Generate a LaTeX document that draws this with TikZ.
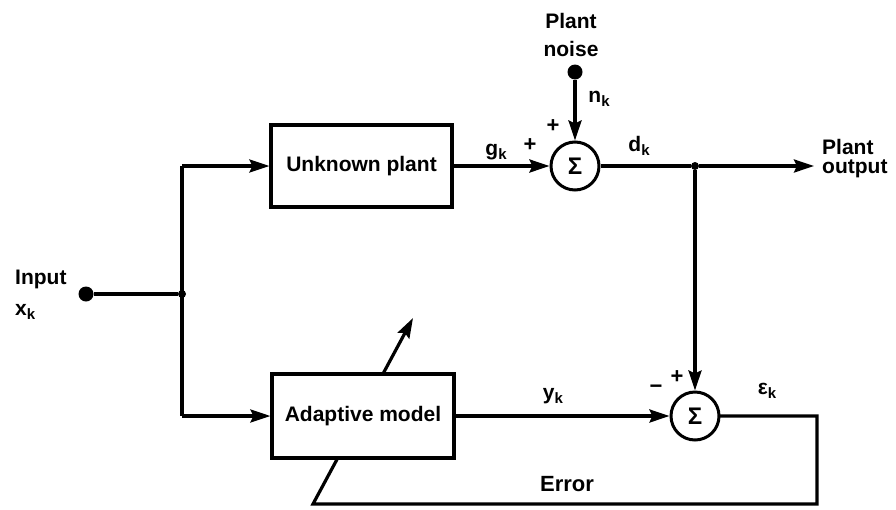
\documentclass[tikz,border=0pt]{standalone}
\usepackage{fontspec}
\setmainfont{Liberation Sans}
\usetikzlibrary{arrows.meta}
\newcommand{\subk}[1]{#1\raisebox{-0.35ex}{\fontsize{15}{15}\selectfont k}}
\begin{document}
\begin{tikzpicture}[x=1pt,y=-1pt,
  wire/.style={line width=3.2pt},
  arr/.style={wire,-{Stealth[length=20pt,width=13pt,inset=3pt]}},
  block/.style={draw,line width=3.2pt,fill=white,inner sep=0pt,font=\fontsize{21}{24}\selectfont\bfseries},
  sumc/.style={draw,circle,line width=3pt,fill=white,inner sep=0pt,minimum size=48pt,font=\fontsize{24}{24}\selectfont\bfseries},
  bigdot/.style={circle,fill=black,inner sep=0pt,minimum size=15pt},
  smalldot/.style={circle,fill=black,inner sep=0pt,minimum size=8pt},
  lbl/.style={inner sep=0pt,font=\fontsize{21}{22}\selectfont\bfseries},
  sgn/.style={inner sep=0pt,font=\fontsize{22}{22}\selectfont\bfseries}]
\useasboundingbox[fill=white] (0,0) rectangle (896,509);
% coordinates
\coordinate (jt) at (182,166);
\coordinate (jb) at (182,416);
\coordinate (e1) at (817,416);
\coordinate (e2) at (817,504);
\coordinate (e3) at (313,504);
\coordinate (tip) at (413,318);
\coordinate (out) at (814,166);
% error feedback path drawn first (hidden behind model box)
\draw[arr] (695,416) -- (e1) -- (e2) -- (e3) -- (tip);
% nodes
\node[block,minimum width=181pt,minimum height=82pt] (plant) at (361.5,166) {Unknown plant};
\node[block,minimum width=182pt,minimum height=84pt] (model) at (363,416) {Adaptive model};
\node[sumc] (s1) at (575,166) {Σ};
\node[sumc] (s2) at (695,416) {Σ};
\node[bigdot] (in) at (86,294) {};
\node[bigdot] (noise) at (575,72) {};
\node[smalldot] (j1) at (182,294) {};
\node[smalldot] (j2) at (695,166) {};
% connectors
\draw[wire] (in) -- (j1);
\draw[wire] (jt) -- (jb);
\draw[arr] (jt) -- (plant.west);
\draw[arr] (jb) -- (model.west);
\draw[arr] (plant.east) -- (s1.west);
\draw[arr] (noise) -- (s1.north);
\draw[arr] (s1.east) -- (j2) -- (out);
\draw[arr] (j2) -- (s2.north);
\draw[arr] (model.east) -- (s2.west);
% labels
\node[lbl] (t1) at (571,21) {Plant};
\node[lbl] (t2) at (571,49) {noise};
\node[lbl] (t3) at (599,99) {\subk{n}};
\node[lbl] (t4) at (496,152) {\subk{g}};
\node[sgn] (p1) at (530,145) {+};
\node[sgn] (p2) at (553,126) {+};
\node[lbl] (t5) at (639,146) {\subk{d}};
\node[lbl,anchor=west] (t6) at (822,147) {Plant};
\node[lbl,anchor=west] (t7) at (822,169) {output};
\node[lbl,anchor=west] (t8) at (15,279) {Input};
\node[lbl,anchor=west] (t9) at (15,312) {\subk{x}};
\node[lbl] (t10) at (553,396) {\subk{y}};
\node[sgn] (m1) at (656,389) {−};
\node[sgn] (p3) at (677,377) {+};
\node[lbl] (t11) at (767,391) {\subk{ε}};
\node[lbl,font=\fontsize{22}{22}\selectfont\bfseries] (t12) at (567,484) {Error};
\end{tikzpicture}
\end{document}
